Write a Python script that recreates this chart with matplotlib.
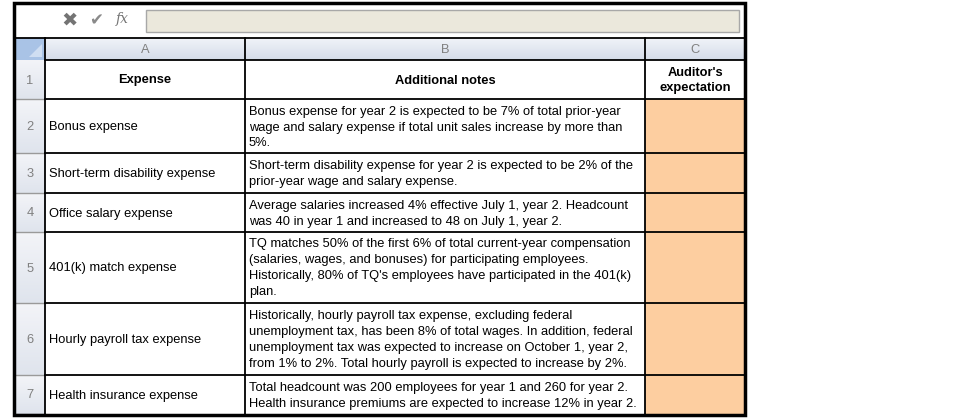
import numpy as np
import matplotlib
matplotlib.use("Agg")
import matplotlib.pyplot as plt
from matplotlib.colors import LinearSegmentedColormap
from matplotlib.patches import Rectangle, Polygon

# Contenido de la hoja
col_letters = ["A", "B", "C"]
row_numbers = ["1", "2", "3", "4", "5", "6", "7"]
header_texts = ["Expense", "Additional notes", "Auditor's\nexpectation"]
expenses = [
    "Bonus expense",
    "Short-term disability expense",
    "Office salary expense",
    "401(k) match expense",
    "Hourly payroll tax expense",
    "Health insurance expense",
]
notes = [
    ["Bonus expense for year 2 is expected to be 7% of total prior-year",
     "wage and salary expense if total unit sales increase by more than",
     "5%."],
    ["Short-term disability expense for year 2 is expected to be 2% of the",
     "prior-year wage and salary expense."],
    ["Average salaries increased 4% effective July 1, year 2. Headcount",
     "was 40 in year 1 and increased to 48 on July 1, year 2."],
    ["TQ matches 50% of the first 6% of total current-year compensation",
     "(salaries, wages, and bonuses) for participating employees.",
     "Historically, 80% of TQ's employees have participated in the 401(k)",
     "plan."],
    ["Historically, hourly payroll tax expense, excluding federal",
     "unemployment tax, has been 8% of total wages. In addition, federal",
     "unemployment tax was expected to increase on October 1, year 2,",
     "from 1% to 2%. Total hourly payroll is expected to increase by 2%."],
    ["Total headcount was 200 employees for year 1 and 260 for year 2.",
     "Health insurance premiums are expected to increase 12% in year 2."],
]

# Geometría (pixeles)
W, H = 962, 418
col_x = [15, 45, 245, 645, 745]        # cabecera de filas, A, B, C
row_y = [38, 60, 99, 153, 193, 232, 303, 375, 414]  # cabecera de columnas, filas 1..7
FONT = "Liberation Sans"
FS = 9.3
LINE = 16

fig = plt.figure(figsize=(W / 100, H / 100), dpi=100)
ax = fig.add_axes([0, 0, 1, 1])


def degradado(x0, x1, y0, y1, c_top, c_bot):
    cmap = LinearSegmentedColormap.from_list("g", [c_top, c_bot])
    grad = np.linspace(0, 1, 64)[:, None]
    ax.imshow(grad, extent=(x0, x1, y1, y0), cmap=cmap, aspect="auto",
              interpolation="bilinear", zorder=1)


# Barra de fórmulas
ax.add_patch(Rectangle((146, 10), 593, 22, facecolor="#ebe8dc",
                       edgecolor="#a8a8a8", linewidth=1, zorder=2))
ax.text(70, 20, "\u2716", fontsize=14, color="#747474", ha="center", va="center",
        family="DejaVu Sans", zorder=3)
ax.text(96, 20, "\u2714", fontsize=12, color="#8a8a8a", ha="center", va="center",
        family="DejaVu Sans", zorder=3)
ax.text(122, 19, "fx", fontsize=10, color="#777777", ha="center", va="center",
        family="DejaVu Serif", style="italic", zorder=3)

# Cabecera de columnas
degradado(col_x[1], col_x[4], row_y[0], row_y[1], "#f0f3f8", "#d5dce9")
for i, letra in enumerate(col_letters):
    xc = (col_x[i + 1] + col_x[i + 2]) / 2
    ax.text(xc, (row_y[0] + row_y[1]) / 2 + 1, letra, fontsize=FS, color="#808080",
            ha="center", va="center", family=FONT, zorder=3)

# Esquina
ax.add_patch(Rectangle((col_x[0], row_y[0]), col_x[1] - col_x[0], row_y[1] - row_y[0],
                       facecolor="#a9c3e6", edgecolor="none", zorder=2))
ax.add_patch(Polygon([(col_x[1] - 3, row_y[1] - 3), (col_x[1] - 3, row_y[0] + 6),
                      (col_x[0] + 14, row_y[1] - 3)], facecolor="#cfdef2",
                     edgecolor="none", zorder=3))

# Cabecera de filas
for r, num in enumerate(row_numbers):
    y0, y1 = row_y[r + 1], row_y[r + 2]
    degradado(col_x[0], col_x[1], y0, y1, "#f3f4f8", "#dfe4ed")
    ax.text((col_x[0] + col_x[1]) / 2, (y0 + y1) / 2 + 1, num, fontsize=FS,
            color="#808080", ha="center", va="center", family=FONT, zorder=3)
    ax.plot([col_x[0], col_x[1]], [y1, y1], color="#9a9a9a", lw=1, zorder=4)

# Celdas de la columna C
for r in range(len(expenses)):
    y0, y1 = row_y[r + 2], row_y[r + 3]
    ax.add_patch(Rectangle((col_x[3], y0), col_x[4] - col_x[3], y1 - y0,
                           facecolor="#fdcea0", edgecolor="none", zorder=1))

# Fila de encabezados
y0, y1 = row_y[1], row_y[2]
for i, txt in enumerate(header_texts):
    xc = (col_x[i + 1] + col_x[i + 2]) / 2
    ax.text(xc, (y0 + y1) / 2 + 1, txt, fontsize=FS, fontweight="bold", color="black",
            ha="center", va="center", family=FONT, linespacing=1.3, zorder=3)

# Filas de datos
for r, (gasto, nota) in enumerate(zip(expenses, notes)):
    y0, y1 = row_y[r + 2], row_y[r + 3]
    ax.text(col_x[1] + 4, (y0 + y1) / 2 + 1, gasto, fontsize=FS, color="black",
            ha="left", va="center", family=FONT, zorder=3)
    for k, linea in enumerate(nota):
        ax.text(col_x[2] + 4, y0 + 12.5 + k * LINE, linea, fontsize=FS, color="black",
                ha="left", va="center", family=FONT, zorder=3)

# Líneas de la cuadrícula
for x in col_x[1:4]:
    ax.plot([x, x], [row_y[0], row_y[-1]], color="black", lw=1.3, zorder=5)
for y in row_y[:-1]:
    ax.plot([col_x[1], col_x[4]], [y, y], color="black", lw=1.3, zorder=5)
ax.plot([col_x[0], col_x[1]], [row_y[0], row_y[0]], color="black", lw=1.3, zorder=5)

# Borde exterior
ax.add_patch(Rectangle((14, 3), 731, 412, facecolor="none", edgecolor="black",
                       linewidth=2.5, zorder=6))

ax.set_xlim(0, W)
ax.set_ylim(H, 0)
ax.axis("off")
fig.savefig("out.png", dpi=100)
